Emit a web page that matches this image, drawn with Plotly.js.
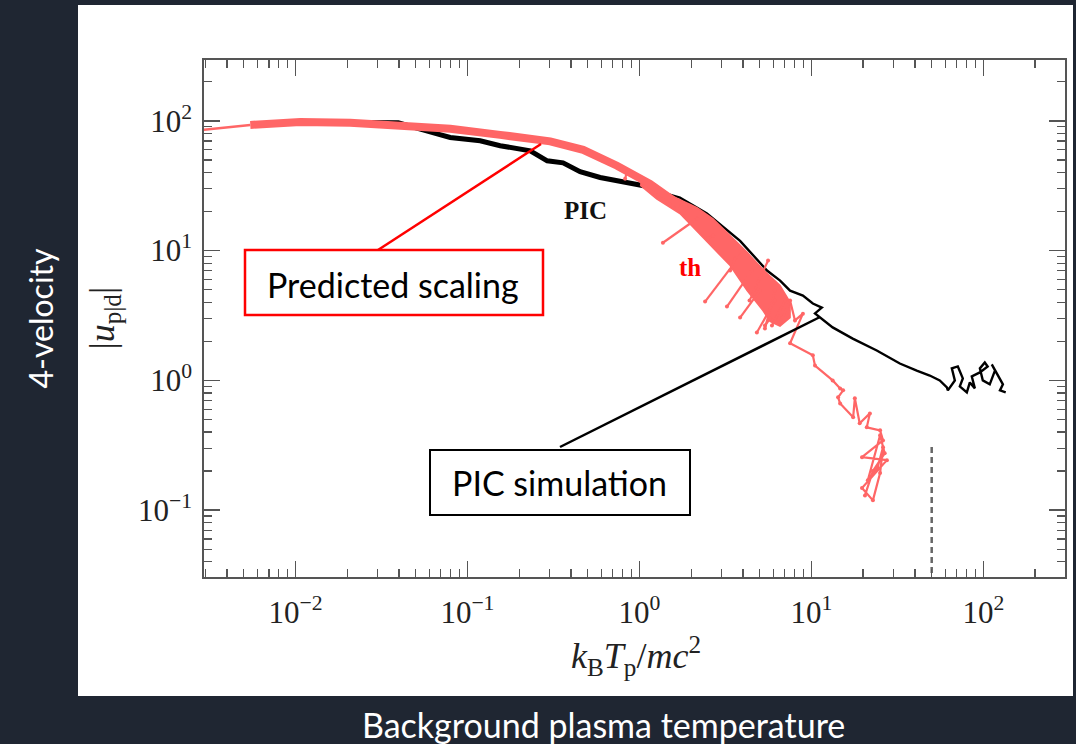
<!DOCTYPE html>
<html>
<head>
<meta charset="utf-8">
<script src="https://cdn.plot.ly/plotly-3.0.1.min.js"></script>
<style>
  html, body { margin: 0; padding: 0; background: #1f2632; }
  #chart { width: 1076px; height: 744px; }
</style>
</head>
<body>
<div id="chart"></div>
<script>
// ---- Data ----
// PIC simulation, thick noisy part
const picThickT = [0.0175, 0.0396, 0.0667, 0.0794, 0.1186, 0.155, 0.232, 0.291, 0.360, 0.452, 0.591, 0.883, 1.20];
const picThickU = [97.1, 96.6, 79.4, 74.4, 70.2, 64.3, 58.8, 49.2, 47.5, 40.6, 36.6, 33.5, 30.7];
// PIC simulation, thin part (incl. final scribble)
const picThinT = [1.20, 1.26, 1.72, 2.47, 3.85, 5.52, 6.58, 7.52, 8.93, 10.2, 11.5, 10.5, 13.3, 17.4, 24.0, 32.7, 41.0, 48.8, 55.8, 61.4,
                  62.2, 68.3, 65.6, 71.1, 76.0, 73.0, 80.2, 83.5, 89.3, 85.7, 95.5, 106, 102, 95.5, 99.3, 109, 117, 112, 121, 130, 125, 135];
const picThinU = [30.7, 28.9, 25.6, 19.3, 11.9, 7.02, 5.88, 4.92, 4.51, 3.91, 3.64, 3.28, 2.56, 2.10, 1.70, 1.35, 1.19, 1.09, 1.0, 0.884,
                  0.838, 1.0, 1.237, 1.281, 1.036, 0.899, 0.809, 0.965, 0.868, 1.073, 1.152, 1.281, 1.375, 1.237, 1.0, 0.932, 1.194, 1.328, 1.112, 0.932, 0.838, 0.809];
// Predicted scaling (th)
const thLeadT = [0.002, 0.00546];
const thLeadU = [80.9, 93.1];
const thBandT = [0.00546, 0.01066, 0.0208, 0.0406, 0.0795, 0.155, 0.303, 0.471, 0.741, 1.153, 1.72];
const thBandU = [93.1, 98.2, 96.6, 93.1, 86.8, 78.0, 69.5, 59.8, 45.1, 32.7, 22.5];
// widened noisy band (outline: upper edge left->right, lower edge right->left)
const thWideT = [1.01, 1.26, 1.72, 2.16, 2.68, 3.37, 4.23, 5.23, 6.57, 7.52,
                 7.52, 6.57, 5.75, 5.23, 4.23, 3.37, 2.68, 2.16, 1.72, 1.26, 1.01];
const thWideU = [38.0, 30.0, 24.7, 21.4, 17.6, 13.0, 9.7, 7.15, 5.39, 4.0,
                 3.05, 2.62, 2.85, 3.45, 4.92, 7.67, 10.5, 14.3, 19.3, 25.1, 32.0];
// downward excursions out of the band
const thSpikeT = [2.16, 1.37, null, 3.85, 2.41, null, 4.51, 3.23, null, 5.02, 3.85, null, 6.14, 4.82, null,
                  0.848, 0.826, null, 1.96, 1.79, null, 2.68, 2.50, null, 3.60, 3.37, null, 5.75, 5.37, null,
                  5.60, 4.37, null, 6.14, 5.37, null, 7.03, 5.90];
const thSpikeU = [17.6, 11.5, null, 9.15, 4.05, null, 7.02, 3.71, null, 4.92, 3.05, null, 4.12, 2.34, null,
                  41.2, 35.8, null, 22.2, 19.6, null, 13.0, 12.4, null, 8.67, 7.02, null, 3.0, 2.65, null,
                  8.38, 4.12, null, 4.92, 2.51, null, 4.12, 2.65];
// tail of th beyond the band
const thTailT = [6.82, 7.52, 8.03, 8.93, 7.52, 10.2, 10.5, 13.3, 14.7, 15.3, 14.3, 14.7, 17.5, 17.9, 19.1, 21.9, 21.0, 25.1, 26.1,
                 19.7, 27.5, 19.7, 22.8, 25.1, 26.1, 24.3, 21.3, 25.1, 26.7, 22.8, 20.5];
const thTailU = [3.05, 4.12, 2.90, 3.27, 1.93, 1.56, 1.30, 1.0, 0.867, 0.838, 0.740, 0.665, 0.519, 0.728, 0.467, 0.557, 0.435, 0.412, 0.345,
                 0.256, 0.243, 0.148, 0.119, 0.193, 0.305, 0.214, 0.170, 0.378, 0.274, 0.20, 0.13];
// dashed vertical marker
const dashT = [50.1, 50.1];
const dashU = [0.307, 0.01];

// ---- Ticks ----
const xTickVals = [0.01, 0.1, 1, 10, 100];
const xTickText = ['10<sup>−2</sup>', '10<sup>−1</sup>', '10<sup>0</sup>', '10<sup>1</sup>', '10<sup>2</sup>'];
const yTickVals = [0.1, 1, 10, 100];
const yTickText = ['10<sup>−1</sup>', '10<sup>0</sup>', '10<sup>1</sup>', '10<sup>2</sup>'];
const minorMult = [2, 3, 4, 5, 6, 7, 8, 9];
const decades = [0.001, 0.01, 0.1, 1, 10, 100];
const minorVals = [];
decades.forEach(d => minorMult.forEach(m => minorVals.push(d * m)));

const RED = 'rgb(255,102,102)';
const AX = '#555';

const traces = [
  { x: picThickT, y: picThickU, mode: 'lines', line: { color: '#000', width: 5 }, hoverinfo: 'skip' },
  { x: picThinT, y: picThinU, mode: 'lines', line: { color: '#000', width: 2.4 }, hoverinfo: 'skip' },
  { x: thWideT, y: thWideU, mode: 'lines', fill: 'toself', fillcolor: RED, line: { color: RED, width: 1.5 }, hoverinfo: 'skip' },
  { x: thLeadT, y: thLeadU, mode: 'lines', line: { color: RED, width: 2.5 }, hoverinfo: 'skip' },
  { x: thBandT, y: thBandU, mode: 'lines', line: { color: RED, width: 8 }, hoverinfo: 'skip' },
  { x: thSpikeT, y: thSpikeU, mode: 'lines+markers', connectgaps: false, line: { color: RED, width: 2.2 }, marker: { color: RED, size: 4 }, hoverinfo: 'skip' },
  { x: thTailT, y: thTailU, mode: 'lines+markers', line: { color: RED, width: 2.2 }, marker: { color: RED, size: 4 }, hoverinfo: 'skip' },
  { x: dashT, y: dashU, mode: 'lines', line: { color: '#666', width: 2.5, dash: '6px,4px' }, hoverinfo: 'skip' }
];

const axisCommon = {
  type: 'log', showgrid: false, zeroline: false,
  showline: true, linecolor: AX, linewidth: 1.6, mirror: 'allticks',
  ticks: 'inside', ticklen: 16, tickwidth: 1.4, tickcolor: AX,
  tickmode: 'array',
  tickfont: { family: 'Liberation Serif, serif', size: 31, color: '#222' },
  minor: { tickmode: 'array', tickvals: minorVals, ticks: 'inside', ticklen: 8, tickwidth: 1.3, tickcolor: AX, showgrid: false }
};

const P = (px) => (px - 204) / 861;
const Q = (py) => (577 - py) / 517;

const layout = {
  width: 1076, height: 744,
  margin: { l: 204, r: 11, t: 60, b: 167, pad: 0 },
  paper_bgcolor: '#1f2632', plot_bgcolor: '#ffffff',
  showlegend: false,
  xaxis: Object.assign({}, axisCommon, { range: [-2.532, 2.475], tickvals: xTickVals, ticktext: xTickText, ticklabelstandoff: 7 }),
  yaxis: Object.assign({}, axisCommon, { range: [-1.515, 2.469], tickvals: yTickVals, ticktext: yTickText, ticklabelstandoff: 4 }),
  shapes: [
    { type: 'rect', xref: 'paper', yref: 'paper', x0: P(78), x1: P(1073), y0: Q(696), y1: Q(5), fillcolor: '#ffffff', line: { width: 0 }, layer: 'below' },
    { type: 'line', xref: 'paper', yref: 'paper', x0: P(378), y0: Q(250), x1: P(541), y1: Q(144), line: { color: '#ff0000', width: 2.5 } },
    { type: 'line', xref: 'paper', yref: 'paper', x0: P(560), y0: Q(447), x1: P(820), y1: Q(317), line: { color: '#000', width: 2.5 } },
    { type: 'rect', xref: 'paper', yref: 'paper', x0: P(245), x1: P(543), y0: Q(315), y1: Q(250), fillcolor: '#ffffff', line: { color: '#ff0000', width: 2.5 } },
    { type: 'rect', xref: 'paper', yref: 'paper', x0: P(430), x1: P(690), y0: Q(515), y1: Q(450), fillcolor: '#ffffff', line: { color: '#000', width: 2 } }
  ],
  annotations: [
    { xref: 'paper', yref: 'paper', x: P(393), y: Q(284), text: 'Predicted scaling', showarrow: false, xanchor: 'center', yanchor: 'middle',
      font: { family: 'Lato, sans-serif', size: 34, color: '#000' } },
    { xref: 'paper', yref: 'paper', x: P(559), y: Q(483), text: 'PIC simulation', showarrow: false, xanchor: 'center', yanchor: 'middle',
      font: { family: 'Lato, sans-serif', size: 34, color: '#000' } },
    { xref: 'paper', yref: 'paper', x: P(585), y: Q(210), text: '<b>PIC</b>', showarrow: false, xanchor: 'center', yanchor: 'middle',
      font: { family: 'Liberation Serif, serif', size: 25, color: '#111' } },
    { xref: 'paper', yref: 'paper', x: P(690), y: Q(267), text: '<b>th</b>', showarrow: false, xanchor: 'center', yanchor: 'middle',
      font: { family: 'Liberation Serif, serif', size: 25, color: '#ff0000' } },
    { xref: 'paper', yref: 'paper', x: P(636), y: Q(656), text: '<i>k</i><sub>B</sub><i>T</i><sub>p</sub>/<i>mc</i><sup>2</sup>', showarrow: false,
      xanchor: 'center', yanchor: 'middle', font: { family: 'Liberation Serif, serif', size: 36, color: '#222' } },
    { xref: 'paper', yref: 'paper', x: P(104), y: 0.5, text: '|<i>u</i><sub>p|d</sub>|', showarrow: false, textangle: -90,
      xanchor: 'center', yanchor: 'middle', font: { family: 'Liberation Serif, serif', size: 36, color: '#222' } },
    { xref: 'paper', yref: 'paper', x: P(40), y: 0.5, text: '4-velocity', showarrow: false, textangle: -90,
      xanchor: 'center', yanchor: 'middle', font: { family: 'Lato, sans-serif', size: 32, color: '#ffffff' } },
    { xref: 'paper', yref: 'paper', x: P(603), y: Q(724), text: 'Background plasma temperature', showarrow: false,
      xanchor: 'center', yanchor: 'middle', font: { family: 'Lato, sans-serif', size: 34, color: '#ffffff' } }
  ]
};

Plotly.newPlot('chart', traces, layout, { staticPlot: true, displayModeBar: false });
</script>
</body>
</html>
